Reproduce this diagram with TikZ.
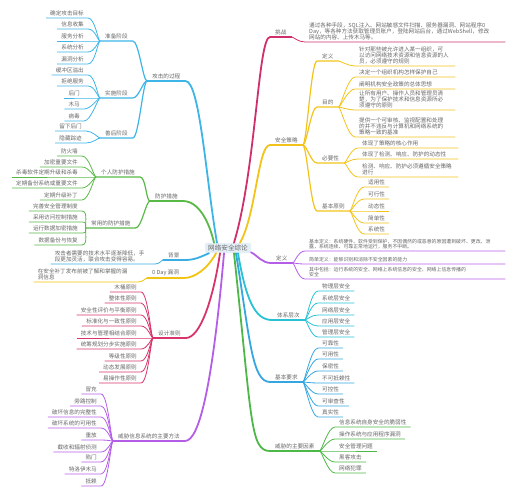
\documentclass[tikz,border=0pt]{standalone}
\usepackage{fontspec}
\setmainfont{Noto Sans CJK SC}
\setlength\parindent{0pt}
\definecolor{tg}{HTML}{666666}
\definecolor{cAtk}{HTML}{3DB5E6}
\definecolor{cFh}{HTML}{58B947}
\definecolor{cBj}{HTML}{3AAEE2}
\definecolor{cOd}{HTML}{F2C40F}
\definecolor{cSj}{HTML}{D8336B}
\definecolor{cWx}{HTML}{B45EE8}
\definecolor{cTz}{HTML}{CF2F6B}
\definecolor{cCl}{HTML}{F3C31B}
\definecolor{cDd}{HTML}{B45EE8}
\definecolor{cTx}{HTML}{28C2D4}
\definecolor{cJy}{HTML}{35A6E0}
\definecolor{cWs}{HTML}{4DB848}
\definecolor{rootfill}{HTML}{E4EEF6}
\colorlet{br}{black}
\tikzset{
  txt/.style={text=tg, font=\fontsize{5.6}{6.3}\selectfont, inner xsep=4pt, inner ysep=1.5pt},
  lbl/.style={txt, inner xsep=5pt, anchor=south west},
  lf/.style={txt, anchor=south east},
  rf/.style={txt, anchor=south west},
  blk/.style={text width=#1, align=left},
  small/.style={font=\fontsize{4.9}{5.6}\selectfont},
  mainln/.style={draw=br, line width=1.8pt, line cap=round},
  subln/.style={draw=br, line width=1.2pt, line cap=round},
  leafln/.style={draw=br, line width=0.8pt},
  rootnode/.style={fill=rootfill, text=tg, font=\fontsize{6.6}{7}\selectfont, inner xsep=3pt, inner ysep=2pt, rounded corners=1pt}
}
\newcommand\Lbl[3]{\node[lbl] (#1) at (#2) {#3};\draw[subln] (#1.south west) -- (#1.south east);}
\newcommand\SubL[4]{\node[lbl] (#1) at (#2) {#3};\draw[subln] (#1.south west) -- (#1.south east) .. controls +(6pt,0pt) and +(-4pt,0pt) .. (#4.south west);}
\newcommand\SubR[4]{\node[lbl] (#1) at (#2) {#3};\draw[subln] (#4.south east) .. controls +(4pt,0pt) and +(-6pt,0pt) .. (#1.south west) -- (#1.south east);}
\newcommand\LLeaf[5][]{\node[lf,#1] (#2) at (#3) {#4};\draw[leafln] (#2.south west) -- (#2.south east) .. controls +(7pt,0pt) and +(-2pt,0pt) .. (#5.south west);}
\newcommand\RLeaf[5][]{\node[rf,#1] (#2) at (#3) {#4};\draw[leafln] (#5.south east) .. controls +(2pt,0pt) and +(-7pt,0pt) .. (#2.south west) -- (#2.south east);}
\begin{document}
\begin{tikzpicture}[x=1pt,y=-1pt]
\useasboundingbox (0,0) rectangle (519,498);
\node[rootnode] (root) at (228,248) {网络安全综论};

% ---------- left: 攻击的过程
\begin{scope}
\colorlet{br}{cAtk}
\Lbl{gj}{147,81}{攻击的过程}
\draw[mainln] ([xshift=-11pt]root.north) .. controls (206,180) and (200,81) .. (gj.south east);
\SubL{zb}{100,41}{准备阶段}{gj}
\SubL{ss}{100,98}{实施阶段}{gj}
\SubL{sh}{100,138}{善后阶段}{gj}
\LLeaf{a1}{88,18}{确定攻击目标}{zb}
\LLeaf{a2}{88,29}{信息收集}{zb}
\LLeaf{a3}{88,41}{服务分析}{zb}
\LLeaf{a4}{88,52}{系统分析}{zb}
\LLeaf{a5}{88,64}{漏洞分析}{zb}
\LLeaf{b1}{88,75}{缓冲区溢出}{ss}
\LLeaf{b2}{88,86}{拒绝服务}{ss}
\LLeaf{b3}{84,98}{后门}{ss}
\LLeaf{b4}{84,109}{木马}{ss}
\LLeaf{b5}{84,121}{病毒}{ss}
\LLeaf{c1}{86,131}{留下后门}{sh}
\LLeaf{c2}{86,143}{隐藏踪迹}{sh}
\end{scope}

% ---------- left: 防护措施
\begin{scope}
\colorlet{br}{cFh}
\Lbl{fh}{150,201}{防护措施}
\draw[mainln] ([xshift=-14pt]root.north) .. controls (210,225) and (200,201) .. (fh.south east);
\SubL{gr}{96,177}{个人防护措施}{fh}
\SubL{cy}{86,228}{常用的防护措施}{fh}
\LLeaf{d1}{82,156}{防火墙}{gr}
\LLeaf{d2}{82,167}{加密重要文件}{gr}
\LLeaf{d3}{82,177}{杀毒软件定期升级和杀毒}{gr}
\LLeaf{d4}{82,188}{定期备份系统或重要文件}{gr}
\LLeaf{d5}{82,200}{定期升级补丁}{gr}
\LLeaf{e1}{82,211}{完善安全管理制度}{cy}
\LLeaf{e2}{82,222}{采用访问控制措施}{cy}
\LLeaf{e3}{82,233}{运行数据加密措施}{cy}
\LLeaf{e4}{82,245}{数据备份与恢复}{cy}
\end{scope}

% ---------- left: 背景
\begin{scope}
\colorlet{br}{cBj}
\Lbl{bj}{163,260}{背景}
\draw[mainln] ([xshift=4pt]root.south west) .. controls (200,257) and (195,260) .. (bj.south east);
\LLeaf[blk=95pt]{bjt}{154,264}{攻击者需要的技术水平逐渐降低，手\\段更加灵活，联合攻击变得容易。}{bj}
\end{scope}

% ---------- left: 0 Day 漏洞
\begin{scope}
\colorlet{br}{cOd}
\Lbl{od}{147,278}{0 Day 漏洞}
\draw[mainln] ([xshift=-12pt]root.south) .. controls (208,268) and (195,278) .. (od.south east);
\LLeaf[blk=95pt]{odt}{137,282}{在安全补丁发布前被了解和掌握的漏\\洞信息}{od}
\end{scope}

% ---------- left: 设计准则
\begin{scope}
\colorlet{br}{cSj}
\Lbl{sj}{153,338}{设计准则}
\draw[mainln] ([xshift=-8pt]root.south) .. controls (213,300) and (200,338) .. (sj.south east);
\LLeaf{f1}{141,292}{木桶原则}{sj}
\LLeaf{f2}{141,303}{整体性原则}{sj}
\LLeaf{f3}{141,315}{安全性评价与平衡原则}{sj}
\LLeaf{f4}{141,326}{标准化与一致性原则}{sj}
\LLeaf{f5}{141,338}{技术与管理相结合原则}{sj}
\LLeaf{f6}{141,349}{统筹规划分步实施原则}{sj}
\LLeaf{f7}{141,361}{等级性原则}{sj}
\LLeaf{f8}{141,372}{动态发展原则}{sj}
\LLeaf{f9}{141,383}{易操作性原则}{sj}
\end{scope}

% ---------- left: 威胁信息系统的主要方法
\begin{scope}
\colorlet{br}{cWx}
\Lbl{wx}{113,441}{威胁信息系统的主要方法}
\draw[mainln] ([xshift=-4pt]root.south) .. controls (213,380) and (200,441) .. (wx.south east);
\LLeaf{g1}{101,394}{冒充}{wx}
\LLeaf{g2}{101,406}{旁路控制}{wx}
\LLeaf{g3}{101,417}{破坏信息的完整性}{wx}
\LLeaf{g4}{101,428}{破坏系统的可用性}{wx}
\LLeaf{g5}{101,440}{重放}{wx}
\LLeaf{g6}{101,452}{截收和辐射侦测}{wx}
\LLeaf{g7}{101,462}{陷门}{wx}
\LLeaf{g8}{101,474}{特洛伊木马}{wx}
\LLeaf{g9}{101,486}{抵赖}{wx}
\end{scope}

% ---------- right: 挑战
\begin{scope}
\colorlet{br}{cTz}
\Lbl{tz}{270,37}{挑战}
\draw[mainln] ([xshift=6pt]root.north) .. controls (256,170) and (258,37) .. (tz.south west);
\RLeaf[blk=192pt]{tzt}{305,42}{通过各种手段，SQL注入、网站敏感文件扫描、服务器漏洞、网站程序0\\Day，等各种方法获取管理员账户，登陆网站后台，通过WebShell，修改\\网站的内容、上传木马等。}{tz}
\end{scope}

% ---------- right: 安全策略
\begin{scope}
\colorlet{br}{cCl}
\Lbl{cl}{270,145}{安全策略}
\draw[mainln] ([xshift=12pt]root.north) .. controls (256,215) and (258,145) .. (cl.south west);
\SubR{dy}{317,61}{定义}{cl}
\SubR{md}{317,107}{目的}{cl}
\SubR{by}{317,163}{必要性}{cl}
\SubR{jb}{317,211}{基本原则}{cl}
\RLeaf[blk=92pt]{h1}{355,66}{针对那些被允许进入某一组织，可\\以访问网络技术资源和信息资源的人\\员，必须遵守的规则}{dy}
\RLeaf[blk=92pt]{i1}{355,77}{决定一个组织机构怎样保护自己}{md}
\RLeaf[blk=92pt]{i2}{355,89}{阐明机构安全政策的总体思想}{md}
\RLeaf[blk=92pt]{i3}{355,110}{让所有用户、操作人员和管理员清\\楚，为了保护技术和信息资源所必\\须遵守的原则}{md}
\RLeaf[blk=92pt]{i4}{355,137}{提供一个可审核、监视配置和处理\\的并不违反与计算机和网络系统的\\策略一致的基准}{md}
\RLeaf[blk=92pt]{j1}{358,148}{体现了策略的核心作用}{by}
\RLeaf[blk=92pt]{j2}{358,159}{体现了检测、响应、防护的动态性}{by}
\RLeaf[blk=92pt]{j3}{358,177}{检测、响应、防护必须遵循安全策略\\进行}{by}
\RLeaf{k1}{364,187}{适用性}{jb}
\RLeaf{k2}{364,199}{可行性}{jb}
\RLeaf{k3}{364,211}{动态性}{jb}
\RLeaf{k4}{364,223}{简单性}{jb}
\RLeaf{k5}{364,234}{系统性}{jb}
\end{scope}

% ---------- right: 定义
\begin{scope}
\colorlet{br}{cDd}
\Lbl{dd}{271,263}{定义}
\draw[mainln] ([yshift=1pt]root.south east) .. controls (258,256) and (262,263) .. (dd.south west);
\RLeaf[blk=192pt,small]{l1}{305,251}{基本定义：系统硬件、软件受到保护，不因偶然的或恶意的原因遭到破坏、更改、泄\\露，系统连续、可靠正常地运行，服务不中断。}{dd}
\RLeaf[blk=192pt,small]{l2}{305,264}{简单定义：能够识别和消除不安全因素的能力}{dd}
\RLeaf[blk=192pt,small]{l3}{305,279}{其中包括：运行系统的安全、网络上系统信息的安全、网络上信息传播的\\安全}{dd}
\end{scope}

% ---------- right: 体系层次
\begin{scope}
\colorlet{br}{cTx}
\Lbl{tx}{272,320}{体系层次}
\draw[mainln] ([xshift=10pt]root.south) .. controls (246,300) and (255,320) .. (tx.south west);
\RLeaf{m1}{318,291}{物理层安全}{tx}
\RLeaf{m2}{318,303}{系统层安全}{tx}
\RLeaf{m3}{318,315}{网络层安全}{tx}
\RLeaf{m4}{318,326}{应用层安全}{tx}
\RLeaf{m5}{318,337}{管理层安全}{tx}
\end{scope}

% ---------- right: 基本要求
\begin{scope}
\colorlet{br}{cJy}
\Lbl{jy}{270,382}{基本要求}
\draw[mainln] ([xshift=8pt]root.south) .. controls (250,340) and (252,382) .. (jy.south west);
\RLeaf{n1}{318,348}{可靠性}{jy}
\RLeaf{n2}{318,359}{可用性}{jy}
\RLeaf{n3}{318,371}{保密性}{jy}
\RLeaf{n4}{318,383}{不可抵赖性}{jy}
\RLeaf{n5}{318,394}{可控性}{jy}
\RLeaf{n6}{318,406}{可审查性}{jy}
\RLeaf{n7}{318,417}{真实性}{jy}
\end{scope}

% ---------- right: 威胁的主要因素
\begin{scope}
\colorlet{br}{cWs}
\Lbl{ws}{270,451}{威胁的主要因素}
\draw[mainln] ([xshift=6pt]root.south) .. controls (252,420) and (250,451) .. (ws.south west);
\RLeaf{o1}{335,427}{信息系统自身安全的脆弱性}{ws}
\RLeaf{o2}{335,439}{操作系统与应用程序漏洞}{ws}
\RLeaf{o3}{335,451}{安全管理问题}{ws}
\RLeaf{o4}{335,462}{黑客攻击}{ws}
\RLeaf{o5}{335,473}{网络犯罪}{ws}
\end{scope}
\end{tikzpicture}
\end{document}
